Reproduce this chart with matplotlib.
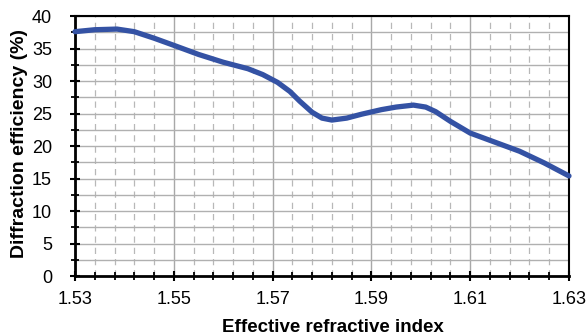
#!/usr/bin/env python3

import matplotlib

matplotlib.use("Agg")
import matplotlib.pyplot as plt
from matplotlib.ticker import FixedLocator, FormatStrFormatter, MultipleLocator

# values
refractive_index = [1.530, 1.534, 1.5385, 1.542, 1.546, 1.550, 1.555, 1.560, 1.565,
                    1.568, 1.571, 1.5735, 1.5755, 1.578, 1.580, 1.582, 1.585, 1.588,
                    1.592, 1.595, 1.5985, 1.601, 1.603, 1.606, 1.610, 1.615, 1.620,
                    1.625, 1.630]
efficiency = [37.6, 37.9, 38.0, 37.6, 36.6, 35.5, 34.1, 32.9, 31.9,
              31.0, 29.8, 28.4, 26.9, 25.2, 24.3, 24.0, 24.3, 24.9,
              25.6, 26.0, 26.3, 26.0, 25.3, 23.8, 22.0, 20.6, 19.2,
              17.4, 15.4]

x_ticks = [1.53, 1.55, 1.57, 1.59, 1.61, 1.63]
x_minor_ticks = [1.53 + 0.004 * i for i in range(26)]
x_label = "Effective refractive index"
y_label = "Diffraction efficiency (%)"

plt.rcParams["font.family"] = ["Liberation Sans", "DejaVu Sans"]

fig = plt.figure(figsize=(5.87, 3.35), dpi=100)
ax = fig.add_axes([0.1278, 0.176, 0.8415, 0.776])

ax.plot(refractive_index, efficiency, color="#3452a4", linewidth=3.8,
        solid_joinstyle="round", solid_capstyle="round", zorder=3, clip_on=False)

ax.set_xlim(1.53, 1.63)
ax.set_ylim(0, 40)
ax.xaxis.set_major_locator(FixedLocator(x_ticks))
ax.xaxis.set_minor_locator(FixedLocator(x_minor_ticks))
ax.xaxis.set_major_formatter(FormatStrFormatter("%.2f"))
ax.yaxis.set_major_locator(MultipleLocator(5))
ax.yaxis.set_minor_locator(MultipleLocator(2.5))

ax.grid(which="major", axis="x", color="#a8a8a8", linewidth=1.0)
ax.grid(which="minor", axis="x", color="#b8b8b8", linewidth=0.9, linestyle=(0, (5, 4)))
ax.grid(which="both", axis="y", color="#b0b0b0", linewidth=1.0)
ax.set_axisbelow(True)

for side in ["left", "bottom"]:
    ax.spines[side].set_linewidth(2.0)
for side in ["top", "right"]:
    ax.spines[side].set_linewidth(1.5)

ax.tick_params(which="major", direction="inout", length=7, width=1.5, labelsize=13)
ax.tick_params(which="minor", direction="inout", length=6, width=1.3)
ax.tick_params(axis="x", pad=7)
ax.tick_params(axis="y", pad=13)

ax.set_xlabel(x_label, fontsize=13.5, fontweight="bold")
ax.set_ylabel(y_label, fontsize=14, fontweight="bold", labelpad=3)
ax.xaxis.set_label_coords(0.522, -0.165)
ax.yaxis.label.set_y(0.51)

fig.savefig("out.png", dpi=100)
